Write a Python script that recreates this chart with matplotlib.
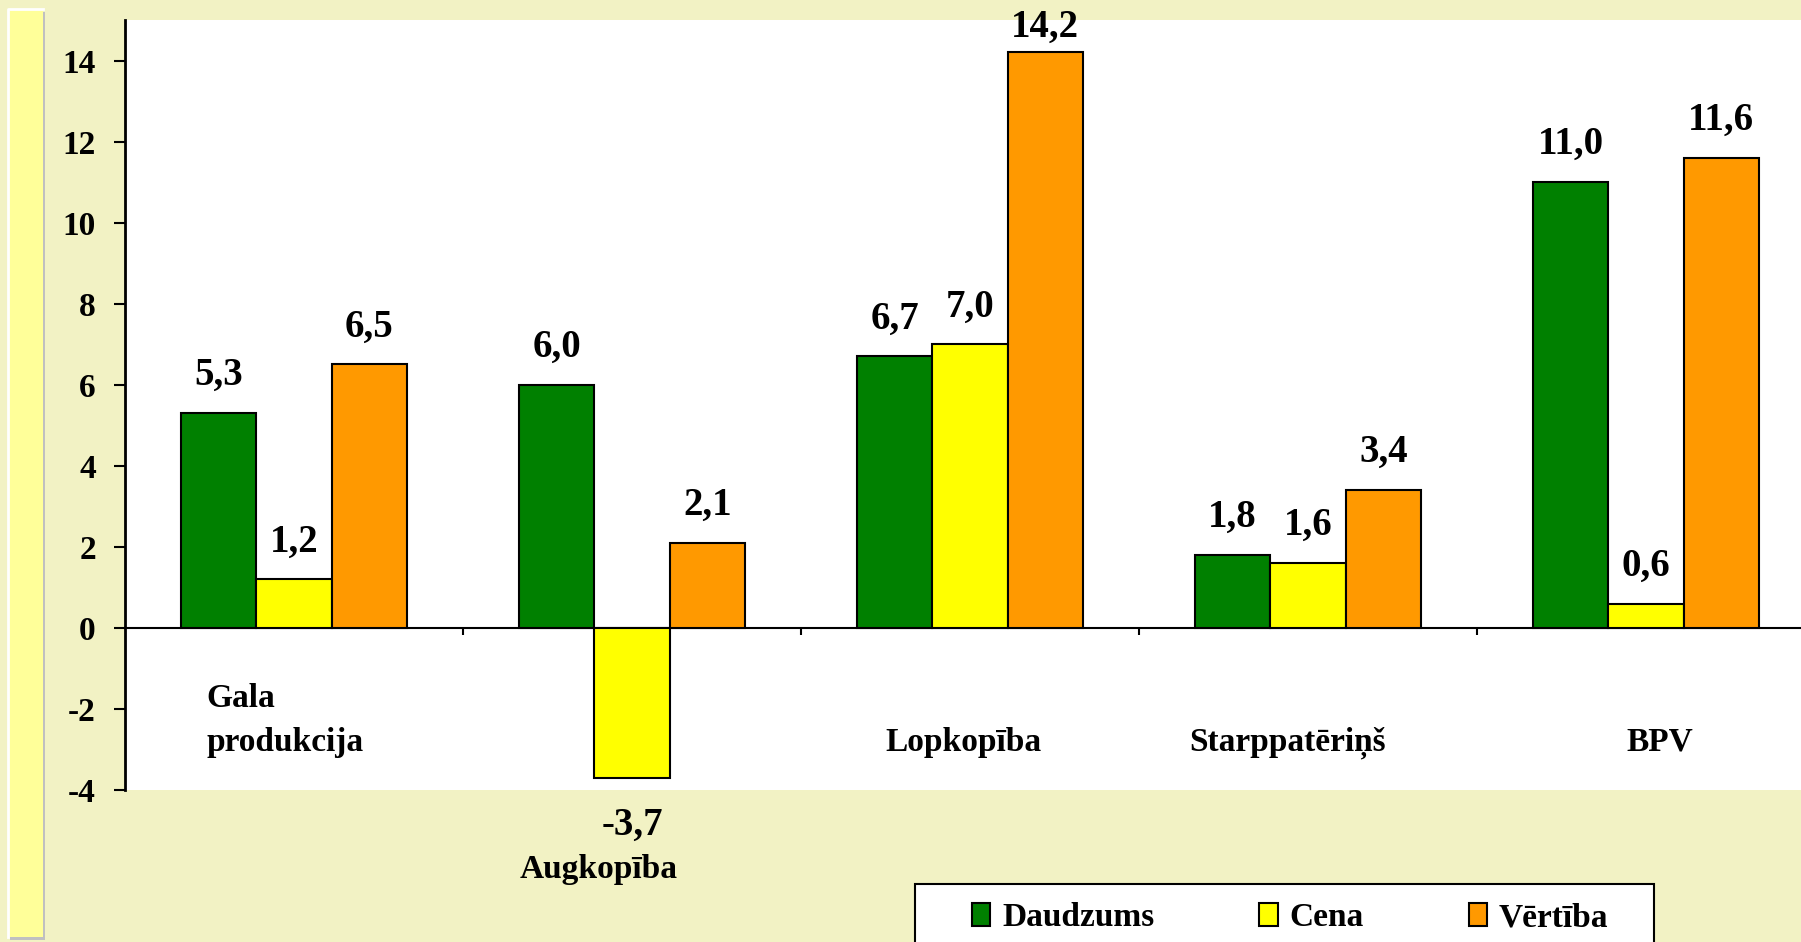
import matplotlib
matplotlib.use('Agg')
import numpy as np
import matplotlib.pyplot as plt
from matplotlib.patches import Rectangle

categories = ["Gala\nprodukcija", "Augkopība", "Lopkopība", "Starppatēriņš", "BPV"]
series = ["Daudzums", "Cena", "Vērtība"]
daudzums = [5.3, 6.0, 6.7, 1.8, 11.0]
cena = [1.2, -3.7, 7.0, 1.6, 0.6]
vertiba = [6.5, 2.1, 14.2, 3.4, 11.6]
yticks = [-4, -2, 0, 2, 4, 6, 8, 10, 12, 14]
colors = ["#008000", "#FFFF00", "#FF9900"]

plt.rcParams['font.family'] = ['Liberation Serif', 'DejaVu Serif']
plt.rcParams['font.weight'] = 'bold'
plt.rcParams['axes.unicode_minus'] = False

W, H = 1801, 942
fig = plt.figure(figsize=(W / 100, H / 100), dpi=100)
fig.patch.set_facecolor('#F2F2C4')

# yellow strip on the left with white edge and grey shadow
fig.patches.append(Rectangle((10 / W, 1 - 940 / H), 35 / W, 928 / H, transform=fig.transFigure,
                             facecolor='#C0C0C0', edgecolor='none', zorder=0))
fig.patches.append(Rectangle((8 / W, 1 - 937 / H), 35 / W, 927 / H, transform=fig.transFigure,
                             facecolor='#FFFF99', edgecolor='none', zorder=1))
fig.lines.append(plt.Line2D([8 / W, 8 / W, 43 / W], [1 - 937 / H, 1 - 9 / H, 1 - 9 / H],
                            transform=fig.transFigure, color='white', lw=2, zorder=2))

ax = fig.add_axes([125 / W, 1 - 790 / H, 1690 / W, 770 / H])
ax.set_facecolor('white')

x = np.arange(len(categories)) + 0.5
w = 0.223
for i, (name, vals) in enumerate(zip(series, [daudzums, cena, vertiba])):
    bars = ax.bar(x + (i - 1) * w, vals, w, color=colors[i], edgecolor='black',
                  linewidth=1.5, label=name, zorder=3)
    for b, v in zip(bars, vals):
        txt = f"{v:.1f}".replace('.', ',')
        if v < 0:
            off = -41
        elif v > 14:
            off = 11.5   # squeezed under the top of the plot area
        else:
            off = 20
        ax.annotate(txt, (b.get_x() + b.get_width() / 2, v), xytext=(0, off),
                    textcoords='offset points', ha='center', va='baseline',
                    fontsize=28, fontweight='bold', annotation_clip=False)

ax.set_xlim(0, 5)
ax.set_ylim(-4, 15)
ax.set_yticks(yticks)
ax.set_yticklabels([str(t) for t in yticks])
ax.tick_params(axis='y', labelsize=24, length=8, width=1.5, pad=13)
ax.set_xticks([1, 2, 3, 4])
ax.set_xticklabels([])
ax.tick_params(axis='x', length=5, width=1.5, direction='out')
ax.spines['bottom'].set_position(('data', 0))
ax.spines['bottom'].set_linewidth(1.5)
ax.spines['left'].set_linewidth(2)
ax.spines['top'].set_visible(False)
ax.spines['right'].set_visible(False)

# category labels, placed as in the original
label_x = [0.474, 1.40, 2.48, 3.44, 4.54]
label_y = [-3.03, -6.18, -3.03, -3.03, -3.03]
for xl, cat, yl in zip(label_x, categories, label_y):
    ax.text(xl, yl, cat, ha='center', va='baseline', multialignment='left',
            fontsize=24, fontweight='bold', linespacing=1.53, clip_on=False)

# legend box running off the bottom
fig.patches.append(Rectangle((915 / W, -0.05), 739 / W, 0.05 + 1 - 884 / H,
                             transform=fig.transFigure, facecolor='white',
                             edgecolor='black', lw=1.5, zorder=2))
leg = fig.legend(loc='center left', bbox_to_anchor=(972 / W, 1 - 918 / H), ncol=3,
                 frameon=False, fontsize=24, handlelength=0.55, handleheight=0.67,
                 handletextpad=0.35, columnspacing=3.15, borderpad=0, borderaxespad=0)
leg.set_zorder(5)

fig.savefig('out.png', dpi=100, facecolor=fig.get_facecolor())
